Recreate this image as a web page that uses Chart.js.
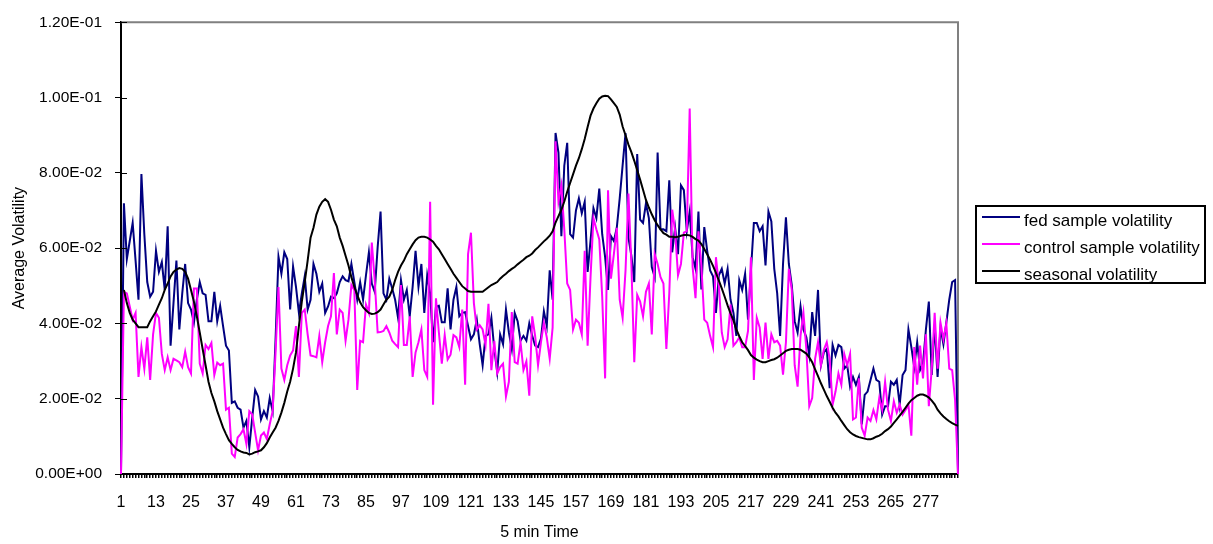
<!DOCTYPE html>
<html>
<head>
<meta charset="utf-8">
<title>Average Volatility</title>
<script src="https://cdn.jsdelivr.net/npm/chart.js@4.4.0/dist/chart.umd.min.js"></script>
<style>
  html, body { margin: 0; padding: 0; background: #fff; }
  canvas { display: block; }
</style>
</head>
<body>
<canvas id="volChart" width="1213" height="544"></canvas>
<script>
// valores (5 min, 288 intervalos)
const fedVol = [
0, 0.0719, 0.0571, 0.0619, 0.0667, 0.0567, 0.0463, 0.0797, 0.0637, 0.0510,
0.0471, 0.0484, 0.0593, 0.0537, 0.0563, 0.0489, 0.0658, 0.0341, 0.0454, 0.0567,
0.0384, 0.0480, 0.0558, 0.0454, 0.0437, 0.0402, 0.0463, 0.0510, 0.0480, 0.0476,
0.0406, 0.0406, 0.0484, 0.0406, 0.0447, 0.0393, 0.0341, 0.0328, 0.0189, 0.0193,
0.0176, 0.0171, 0.0123, 0.0141, 0.0071, 0.0150, 0.0223, 0.0206, 0.0145, 0.0167,
0.0150, 0.0202, 0.0167, 0.0358, 0.0577, 0.0532, 0.0589, 0.0571, 0.0437, 0.0551,
0.0497, 0.0428, 0.0480, 0.0525, 0.0437, 0.0463, 0.0558, 0.0532, 0.0484, 0.0506,
0.0428, 0.0445, 0.0471, 0.0467, 0.0480, 0.0510, 0.0525, 0.0515, 0.0512, 0.0558,
0.0510, 0.0463, 0.0510, 0.0463, 0.0528, 0.0589, 0.0506, 0.0484, 0.0602, 0.0697,
0.0480, 0.0463, 0.0519, 0.0493, 0.0463, 0.0415, 0.0515, 0.0463, 0.0489, 0.0419,
0.0497, 0.0593, 0.0497, 0.0558, 0.0428, 0.0528, 0.0480, 0.0350, 0.0445, 0.0447,
0.0403, 0.0403, 0.0493, 0.0384, 0.0463, 0.0497, 0.0419, 0.0428, 0.0430, 0.0393,
0.0358, 0.0371, 0.0410, 0.0345, 0.0289, 0.0367, 0.0371, 0.0415, 0.0332, 0.0271,
0.0371, 0.0345, 0.0437, 0.0376, 0.0332, 0.0428, 0.0406, 0.0354, 0.0367, 0.0354,
0.0400, 0.0367, 0.0341, 0.0337, 0.0360, 0.0432, 0.0393, 0.0541, 0.0463, 0.0906,
0.0854, 0.0632, 0.0819, 0.0880, 0.0637, 0.0628, 0.0700, 0.0732, 0.0693, 0.0723,
0.0537, 0.0620, 0.0706, 0.0680, 0.0758, 0.0637, 0.0576, 0.0489, 0.0632, 0.0619,
0.0654, 0.0732, 0.0820, 0.0906, 0.0628, 0.0580, 0.0510, 0.0850, 0.0676, 0.0667,
0.0719, 0.0680, 0.0550, 0.0523, 0.0854, 0.0650, 0.0650, 0.0645, 0.0780, 0.0589,
0.0654, 0.0584, 0.0767, 0.0754, 0.0645, 0.0697, 0.0576, 0.0545, 0.0697, 0.0490,
0.0656, 0.0593, 0.0541, 0.0525, 0.0428, 0.0528, 0.0545, 0.0506, 0.0545, 0.0463,
0.0428, 0.0367, 0.0515, 0.0489, 0.0532, 0.0410, 0.0540, 0.0667, 0.0667, 0.0645,
0.0658, 0.0554, 0.0697, 0.0671, 0.0545, 0.0480, 0.0367, 0.0558, 0.0682, 0.0558,
0.0502, 0.0406, 0.0376, 0.0445, 0.0384, 0.0363, 0.0315, 0.0430, 0.0367, 0.0489,
0.0289, 0.0323, 0.0332, 0.0228, 0.0343, 0.0315, 0.0343, 0.0337, 0.0280, 0.0289,
0.0232, 0.0258, 0.0237, 0.0258, 0.0132, 0.0210, 0.0219, 0.0250, 0.0280, 0.0250,
0.0245, 0.0158, 0.0180, 0.0180, 0.0245, 0.0237, 0.0250, 0.0184, 0.0263, 0.0276,
0.0384, 0.0337, 0.0284, 0.0350, 0.0276, 0.0293, 0.0384, 0.0458, 0.0263, 0.0397,
0.0258, 0.0389, 0.0345, 0.0402, 0.0463, 0.0510, 0.0515, 0
];

const controlVol = [
0, 0.0484, 0.0480, 0.0445, 0.0410, 0.0428, 0.0258, 0.0337, 0.0280, 0.0363,
0.0250, 0.0371, 0.0428, 0.0415, 0.0319, 0.0276, 0.0310, 0.0276, 0.0306, 0.0302,
0.0297, 0.0284, 0.0325, 0.0284, 0.0267, 0.0493, 0.0493, 0.0293, 0.0267, 0.0343,
0.0332, 0.0348, 0.0263, 0.0296, 0.0289, 0.0293, 0.0171, 0.0176, 0.0054, 0.0045,
0.0097, 0.0106, 0.0119, 0.0080, 0.0167, 0.0158, 0.0110, 0.0063, 0.0102, 0.0110,
0.0093, 0.0132, 0.0167, 0.0323, 0.0497, 0.0280, 0.0250, 0.0289, 0.0315, 0.0328,
0.0393, 0.0258, 0.0428, 0.0437, 0.0371, 0.0315, 0.0313, 0.0310, 0.0367, 0.0297,
0.0350, 0.0393, 0.0419, 0.0534, 0.0371, 0.0437, 0.0428, 0.0354, 0.0410, 0.0502,
0.0489, 0.0223, 0.0354, 0.0350, 0.0450, 0.0428, 0.0615, 0.0515, 0.0376, 0.0377,
0.0380, 0.0393, 0.0376, 0.0354, 0.0345, 0.0337, 0.0502, 0.0343, 0.0343, 0.0419,
0.0258, 0.0323, 0.0350, 0.0384, 0.0276, 0.0258, 0.0723, 0.0184, 0.0467, 0.0376,
0.0293, 0.0369, 0.0304, 0.0317, 0.0369, 0.0363, 0.0337, 0.0437, 0.0237, 0.0584,
0.0641, 0.0454, 0.0384, 0.0395, 0.0384, 0.0343, 0.0452, 0.0276, 0.0354, 0.0267,
0.0284, 0.0293, 0.0206, 0.0245, 0.0430, 0.0297, 0.0293, 0.0350, 0.0276, 0.0299,
0.0208, 0.0419, 0.0367, 0.0289, 0.0350, 0.0402, 0.0363, 0.0306, 0.0389, 0.0884,
0.0723, 0.0767, 0.0650, 0.0506, 0.0489, 0.0384, 0.0410, 0.0402, 0.0371, 0.0593,
0.0341, 0.0523, 0.0680, 0.0650, 0.0623, 0.0471, 0.0254, 0.0754, 0.0519, 0.0584,
0.0654, 0.0463, 0.0415, 0.0541, 0.0745, 0.0558, 0.0297, 0.0476, 0.0458, 0.0419,
0.0484, 0.0506, 0.0371, 0.0584, 0.0558, 0.0523, 0.0506, 0.0332, 0.0480, 0.0702,
0.0645, 0.0528, 0.0558, 0.0641, 0.0645, 0.0971, 0.0550, 0.0467, 0.0645, 0.0554,
0.0410, 0.0402, 0.0367, 0.0337, 0.0576, 0.0502, 0.0376, 0.0337, 0.0358, 0.0450,
0.0341, 0.0350, 0.0363, 0.0337, 0.0337, 0.0380, 0.0576, 0.0250, 0.0415, 0.0389,
0.0306, 0.0402, 0.0306, 0.0371, 0.0350, 0.0354, 0.0341, 0.0264, 0.0350, 0.0545,
0.0489, 0.0289, 0.0232, 0.0367, 0.0428, 0.0332, 0.0180, 0.0202, 0.0306, 0.0350,
0.0289, 0.0330, 0.0350, 0.0306, 0.0184, 0.0219, 0.0267, 0.0237, 0.0319, 0.0289,
0.0319, 0.0145, 0.0150, 0.0254, 0.0123, 0.0102, 0.0150, 0.0141, 0.0170, 0.0145,
0.0202, 0.0171, 0.0245, 0.0171, 0.0141, 0.0193, 0.0163, 0.0184, 0.0158, 0.0170,
0.0184, 0.0102, 0.0337, 0.0237, 0.0341, 0.0254, 0.0371, 0.0180, 0.0280, 0.0428,
0.0280, 0.0402, 0.0358, 0.0400, 0.0280, 0.0276, 0.0197, 0
];

const seasonalVol = [
null, 0.0489, 0.0454, 0.0428, 0.0410, 0.0400, 0.0390, 0.0390, 0.0390, 0.0390,
0.0406, 0.0419, 0.0432, 0.0450, 0.0467, 0.0489, 0.0506, 0.0525, 0.0537, 0.0543,
0.0547, 0.0545, 0.0537, 0.0519, 0.0489, 0.0458, 0.0419, 0.0376, 0.0332, 0.0289,
0.0245, 0.0215, 0.0193, 0.0167, 0.0145, 0.0123, 0.0106, 0.0090, 0.0080, 0.0071,
0.0064, 0.0060, 0.0057, 0.0056, 0.0052, 0.0054, 0.0058, 0.0060, 0.0063, 0.0071,
0.0082, 0.0097, 0.0110, 0.0123, 0.0141, 0.0163, 0.0189, 0.0219, 0.0245, 0.0280,
0.0323, 0.0393, 0.0458, 0.0510, 0.0567, 0.0628, 0.0654, 0.0689, 0.0710, 0.0723,
0.0730, 0.0723, 0.0702, 0.0676, 0.0658, 0.0628, 0.0606, 0.0580, 0.0554, 0.0523,
0.0497, 0.0476, 0.0456, 0.0443, 0.0435, 0.0428, 0.0425, 0.0426, 0.0430, 0.0437,
0.0450, 0.0463, 0.0471, 0.0489, 0.0515, 0.0537, 0.0554, 0.0567, 0.0584, 0.0597,
0.0610, 0.0621, 0.0628, 0.0630, 0.0630, 0.0628, 0.0623, 0.0617, 0.0606, 0.0597,
0.0584, 0.0571, 0.0558, 0.0545, 0.0532, 0.0521, 0.0510, 0.0499, 0.0493, 0.0486,
0.0484, 0.0484, 0.0484, 0.0484, 0.0484, 0.0490, 0.0496, 0.0502, 0.0506, 0.0510,
0.0519, 0.0526, 0.0532, 0.0539, 0.0545, 0.0550, 0.0557, 0.0563, 0.0569, 0.0576,
0.0580, 0.0586, 0.0595, 0.0602, 0.0610, 0.0618, 0.0625, 0.0633, 0.0645, 0.0668,
0.0685, 0.0702, 0.0724, 0.0750, 0.0773, 0.0796, 0.0819, 0.0839, 0.0863, 0.0890,
0.0922, 0.0952, 0.0971, 0.0985, 0.0997, 0.1003, 0.1005, 0.1004, 0.0995, 0.0985,
0.0975, 0.0955, 0.0923, 0.0900, 0.0875, 0.0855, 0.0832, 0.0807, 0.0782, 0.0755,
0.0728, 0.0708, 0.0690, 0.0674, 0.0661, 0.0650, 0.0640, 0.0636, 0.0630, 0.0630,
0.0629, 0.0630, 0.0633, 0.0635, 0.0635, 0.0634, 0.0630, 0.0624, 0.0620, 0.0611,
0.0598, 0.0584, 0.0569, 0.0553, 0.0534, 0.0514, 0.0493, 0.0471, 0.0448, 0.0427,
0.0408, 0.0384, 0.0366, 0.0350, 0.0340, 0.0329, 0.0316, 0.0309, 0.0304, 0.0300,
0.0297, 0.0297, 0.0300, 0.0303, 0.0305, 0.0309, 0.0315, 0.0321, 0.0327, 0.0330,
0.0332, 0.0332, 0.0332, 0.0330, 0.0325, 0.0320, 0.0310, 0.0297, 0.0278, 0.0260,
0.0241, 0.0224, 0.0207, 0.0192, 0.0176, 0.0163, 0.0153, 0.0141, 0.0130, 0.0119,
0.0111, 0.0105, 0.0101, 0.0098, 0.0096, 0.0094, 0.0092, 0.0092, 0.0095, 0.0099,
0.0102, 0.0107, 0.0114, 0.0119, 0.0126, 0.0136, 0.0145, 0.0155, 0.0165, 0.0176,
0.0187, 0.0196, 0.0202, 0.0208, 0.0211, 0.0211, 0.0208, 0.0203, 0.0195, 0.0185,
0.0171, 0.0161, 0.0153, 0.0146, 0.0140, 0.0135, 0.0131, 0.0128
];

// eixo x: um rotulo a cada 12 intervalos
const categorias = fedVol.map((v, i) => String(i + 1));
const rotulosX = ['1', '13', '25', '37', '49', '61', '73', '85', '97', '109', '121', '133',
  '145', '157', '169', '181', '193', '205', '217', '229', '241', '253', '265', '277'];
const rotulosY = [0, 0.02, 0.04, 0.06, 0.08, 0.10, 0.12];

const fonte = '"Liberation Sans", Arial, sans-serif';

// Função para formatar no estilo do Excel (1.20E-01)
function formatarCientifico(valor) {
    const partes = Number(valor).toExponential(2).split('e');
    const exp = parseInt(partes[1], 10);
    const sinal = exp < 0 ? '-' : '+';
    return partes[0] + 'E' + sinal + String(Math.abs(exp)).padStart(2, '0');
}

// moldura cinza, marcas internas do eixo y e legenda em caixa
const molduraPlugin = {
    id: 'moldura',
    beforeDatasetsDraw(chart) {
        const { ctx, chartArea } = chart;
        ctx.save();
        ctx.strokeStyle = '#808080';
        ctx.lineWidth = 2;
        ctx.beginPath();
        ctx.moveTo(chartArea.left, chartArea.top);
        ctx.lineTo(chartArea.right, chartArea.top);
        ctx.lineTo(chartArea.right, chartArea.bottom);
        ctx.stroke();
        ctx.restore();
    },
    afterDraw(chart) {
        const { ctx, chartArea } = chart;
        const y = chart.scales.y;
        ctx.save();
        ctx.strokeStyle = '#000';
        ctx.lineWidth = 1;
        rotulosY.forEach(v => {
            const py = Math.round(y.getPixelForValue(v)) + 0.5;
            ctx.beginPath();
            ctx.moveTo(chartArea.left, py);
            ctx.lineTo(chartArea.left + 6, py);
            ctx.stroke();
        });

        // legenda
        ctx.lineWidth = 2;
        ctx.strokeStyle = '#000';
        ctx.strokeRect(976, 206, 229, 77);
        ctx.font = '17px ' + fonte;
        ctx.fillStyle = '#000';
        ctx.textBaseline = 'alphabetic';
        ctx.textAlign = 'left';
        chart.data.datasets.forEach((ds, i) => {
            const ly = 217 + i * 27;
            ctx.strokeStyle = ds.borderColor;
            ctx.beginPath();
            ctx.moveTo(982, ly);
            ctx.lineTo(1020, ly);
            ctx.stroke();
            ctx.fillText(ds.label, 1024, ly + 8.5);
        });
        ctx.restore();
    }
};

const ctx = document.getElementById('volChart').getContext('2d');
new Chart(ctx, {
    type: 'line',
    data: {
        labels: categorias,
        datasets: [{
            label: 'fed sample volatility',
            data: fedVol,
            borderColor: '#000080',
            order: 3
        }, {
            label: 'control sample volatility',
            data: controlVol,
            borderColor: '#FF00FF',
            order: 2
        }, {
            label: 'seasonal volatility',
            data: seasonalVol,
            borderColor: '#000000',
            order: 1
        }]
    },
    options: {
        responsive: false,
        animation: false,
        layout: { padding: { top: 13, right: 255, left: 0, bottom: 0 } },
        elements: {
            point: { radius: 0 },
            line: { borderWidth: 2, tension: 0, fill: false }
        },
        plugins: {
            legend: { display: false },
            tooltip: { enabled: false }
        },
        scales: {
            x: {
                type: 'category',
                offset: false,
                grid: { drawOnChartArea: false, drawTicks: true, tickLength: 4, color: '#000', lineWidth: 1.5 },
                border: { color: '#000', width: 2 },
                ticks: {
                    autoSkip: false,
                    maxRotation: 0,
                    minRotation: 0,
                    padding: 15,
                    color: '#000',
                    font: { family: fonte, size: 16 },
                    callback: function (valor) {
                        const rotulo = this.getLabelForValue(valor);
                        return rotulosX.includes(rotulo) ? rotulo : '';
                    }
                },
                title: {
                    display: true,
                    text: '5 min Time',
                    color: '#000',
                    font: { family: fonte, size: 16 },
                    padding: { top: 0, bottom: 2 }
                },
                afterFit: scale => { scale.height = 70; }
            },
            y: {
                min: 0,
                max: 0.12,
                grid: { drawOnChartArea: false, drawTicks: true, tickLength: 6, color: '#000', lineWidth: 1 },
                border: { color: '#000', width: 2 },
                afterBuildTicks: scale => { scale.ticks = rotulosY.map(v => ({ value: v })); },
                ticks: {
                    padding: 13,
                    color: '#000',
                    font: { family: fonte, size: 15.5 },
                    callback: valor => formatarCientifico(valor)
                },
                title: {
                    display: true,
                    text: 'Average Volatility',
                    color: '#000',
                    font: { family: fonte, size: 16 },
                    padding: { top: 10, bottom: 0 }
                },
                afterFit: scale => { scale.width = 121; }
            }
        }
    },
    plugins: [molduraPlugin]
});
</script>
</body>
</html>
